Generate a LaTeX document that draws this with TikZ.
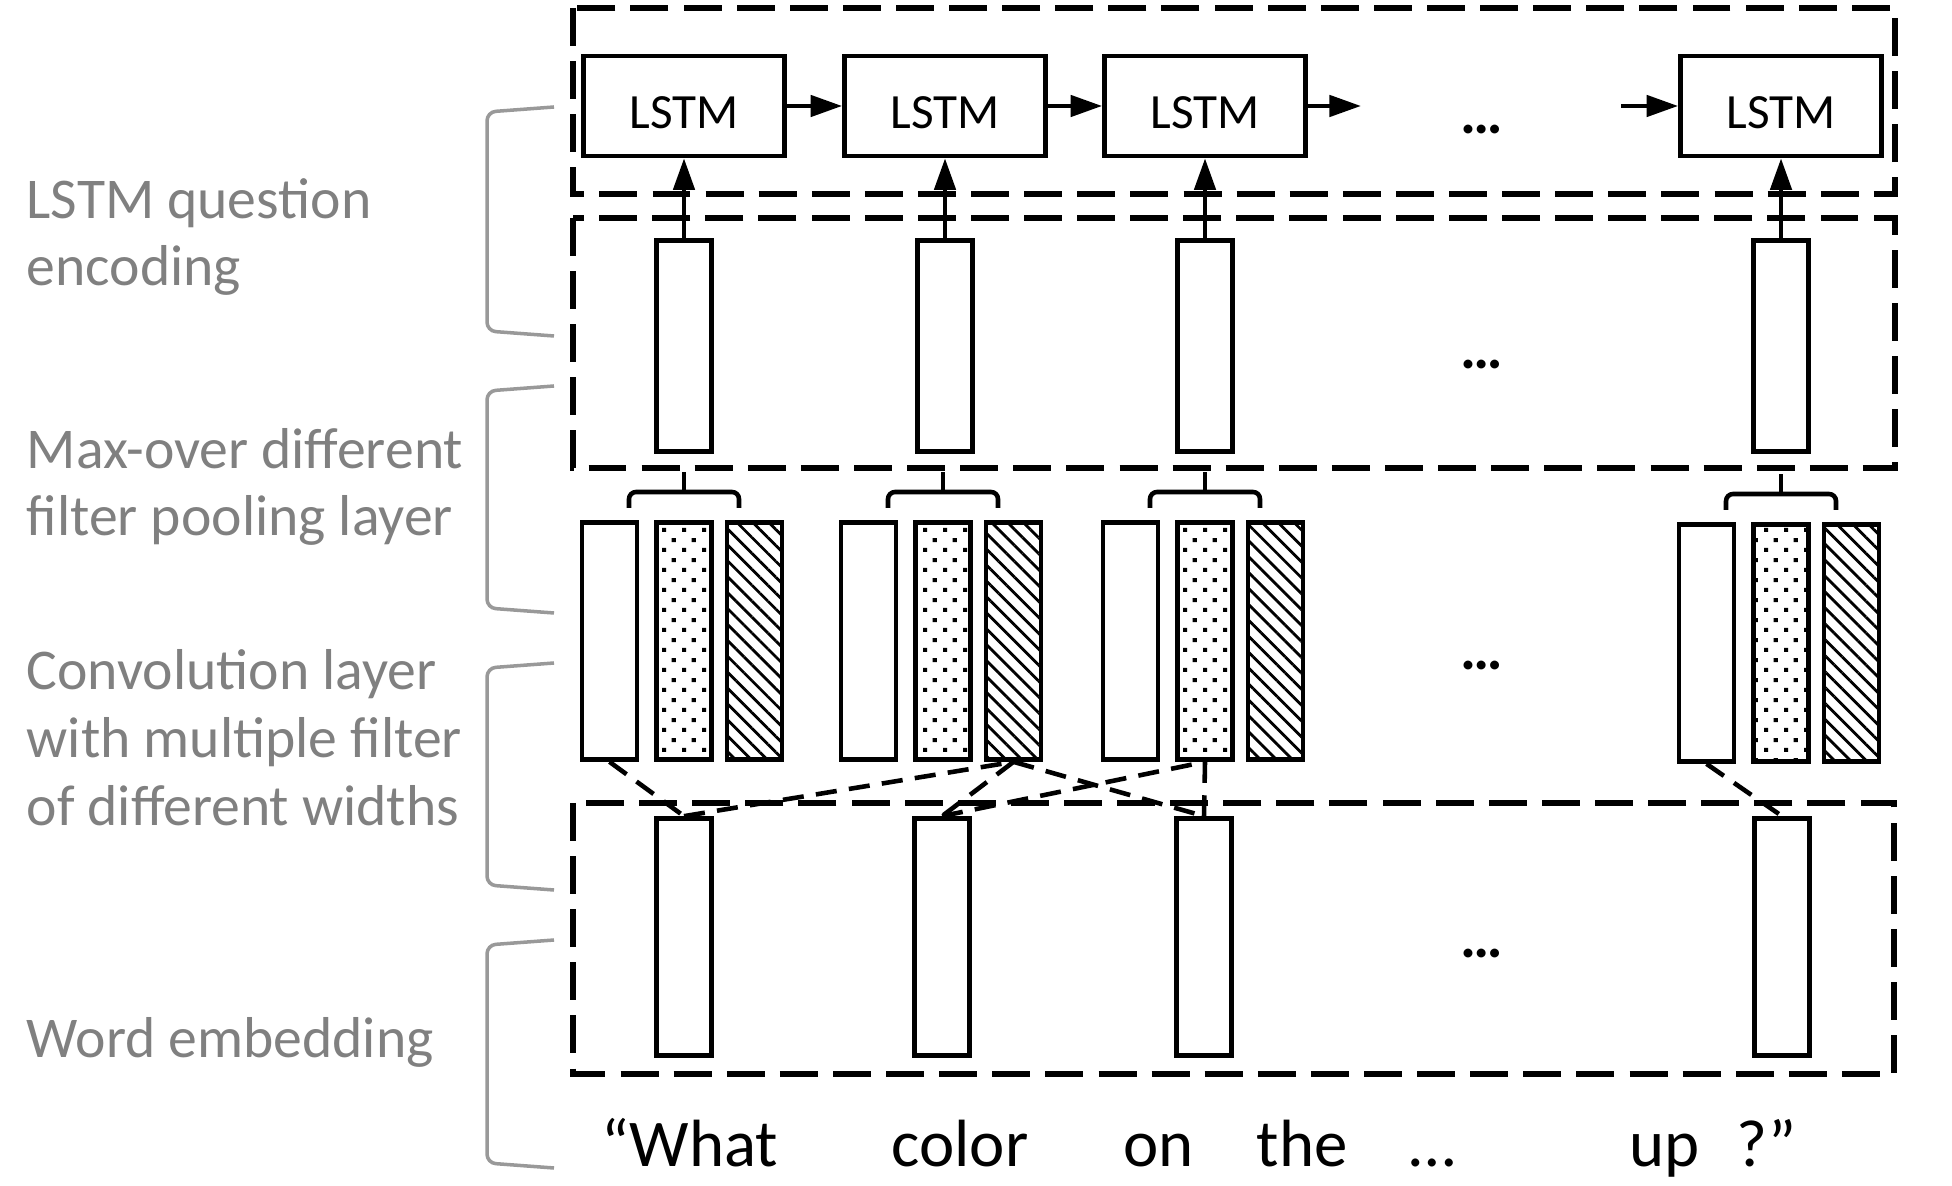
\documentclass[tikz,border=0pt]{standalone}
\usepackage{fontspec}
\setmainfont{Carlito}
\usetikzlibrary{arrows.meta,patterns.meta}

\tikzdeclarepattern{
  name=speckle,
  bottom left={(0pt,0pt)},
  top right={(5.7pt,5.6pt)},
  tile size={(5.7pt,5.6pt)},
  code={
    \fill (0.3pt,0.3pt) rectangle (1.5pt,1.5pt);
    \fill (3.15pt,3.1pt) rectangle (4.35pt,4.3pt);
  }
}

\begin{document}
\begin{tikzpicture}[x=0.01cm,y=-0.01cm]

\tikzstyle{lstm} = [draw, line width=1.3pt, minimum width=2.01cm, minimum height=1.0cm, inner sep=0pt, text height=13pt, text depth=0pt, font=\fontsize{14}{16}\selectfont]
\tikzstyle{vec} = [draw, line width=1.3pt, minimum width=0.55cm, minimum height=2.11cm, inner sep=0pt]
\tikzstyle{conv} = [vec, minimum height=2.37cm]
\tikzstyle{dotcol} = [conv, pattern=speckle]
\tikzstyle{hatchcol} = [conv, pattern={Lines[angle=-45,distance=3.2pt,line width=0.8pt]}]
\tikzstyle{layer} = [line width=1.5pt, dash pattern=on 10.8pt off 4.3pt]
\tikzstyle{link} = [line width=1.3pt, dash pattern=on 6pt off 3.5pt]
\tikzstyle{flow} = [line width=1.3pt, -{Triangle[length=9pt,width=6pt]}]
\tikzstyle{brace} = [line width=1.3pt, rounded corners=2pt]
\tikzstyle{bracket} = [black!40, line width=1pt, rounded corners=2.5pt]
\tikzstyle{tag} = [anchor=base west, align=left, inner sep=0pt, text=black!50, font=\fontsize{16.4}{19.2}\selectfont]
\tikzstyle{word} = [anchor=base west, inner sep=0pt, font=\fontsize{19}{22}\selectfont]
\tikzstyle{more} = [inner sep=0pt, font=\bfseries\fontsize{17}{20}\selectfont]

\useasboundingbox (0,0) rectangle (1952,1186);

% dashed layer frames
\draw[layer] (573,8) rectangle (1895,194);
\draw[layer] (573,218) rectangle (1895,468);
\draw[layer] (573,803) rectangle (1894,1074);

% LSTM chain
\node[lstm] (l1) at (684,106) {LSTM};
\node[lstm] (l2) at (945,106) {LSTM};
\node[lstm] (l3) at (1205,106) {LSTM};
\node[lstm] (l4) at (1781,106) {LSTM};
\coordinate (l3out) at (1361,106);
\coordinate (l4in) at (1621,106);
\node[more] (gap1) at (1482,130) {…};

\draw[flow] (l1) -- (l2);
\draw[flow] (l2) -- (l3);
\draw[flow] (l3) -- (l3out);
\draw[flow] (l4in) -- (l4);

% pooled vectors
\node[vec] (p1) at (684,346) {};
\node[vec] (p2) at (945,346) {};
\node[vec] (p3) at (1205,346) {};
\node[vec] (p4) at (1781,346) {};
\node[more] (gap2) at (1482,365) {…};

\draw[flow] (p1) -- (l1);
\draw[flow] (p2) -- (l2);
\draw[flow] (p3) -- (l3);
\draw[flow] (p4) -- (l4);

% convolution filters
\node[conv] (c1w) at (609.5,641) {};
\node[dotcol] (c1d) at (684,641) {};
\node[hatchcol] (c1h) at (754.5,641) {};

\node[conv] (c2w) at (868.5,641) {};
\node[dotcol] (c2d) at (943,641) {};
\node[hatchcol] (c2h) at (1013.5,641) {};

\node[conv] (c3w) at (1130.5,641) {};
\node[dotcol] (c3d) at (1205,641) {};
\node[hatchcol] (c3h) at (1275.5,641) {};

\node[conv] (c4w) at (1706.5,643) {};
\node[dotcol] (c4d) at (1781,643) {};
\node[hatchcol] (c4h) at (1851.5,643) {};
\node[more] (gap3) at (1482,666) {…};

% max-over braces
\draw[brace] (629,508) -- (629,492) -- (739,492) -- (739,508);
\draw[brace] (684,492) -- (684,472);
\draw[brace] (888,508) -- (888,492) -- (998,492) -- (998,508);
\draw[brace] (943,492) -- (943,472);
\draw[brace] (1150,508) -- (1150,492) -- (1260,492) -- (1260,508);
\draw[brace] (1205,492) -- (1205,472);
\draw[brace] (1726,510) -- (1726,494) -- (1836,494) -- (1836,510);
\draw[brace] (1781,494) -- (1781,474);

% word embeddings
\node[conv] (e1) at (684,937) {};
\node[conv] (e2) at (942,937) {};
\node[conv] (e3) at (1204,937) {};
\node[conv] (e4) at (1782,937) {};
\node[more] (gap4) at (1482,953) {…};

\draw[link] (c1w.south) -- (e1.north);
\draw[link] (e1.north) -- (c2h.south);
\draw[link] (c2h.south) -- (e2.north);
\draw[link] (c2h.south) -- (e3.north);
\draw[link] (e2.north) -- (c3d.south);
\draw[link] (c3d.south) -- (e3.north);
\draw[link] (c4w.south) -- (e4.north);

% question words
\node[word] (w1) at (601,1166) {“What};
\node[word] (w2) at (891,1166) {color};
\node[word] (w3) at (1123,1166) {on};
\node[word] (w4) at (1256,1166) {the};
\node[word] (w5) at (1409,1166) {…};
\node[word] (w6) at (1629,1166) {up};
\node[word] (w7) at (1736,1166) {?”};

% side labels
\draw[bracket] (554,107) -- (487,112) -- (487,331) -- (554,336);
\draw[bracket] (554,386) -- (487,391) -- (487,608) -- (554,613);
\draw[bracket] (554,663) -- (487,668) -- (487,885) -- (554,890);
\draw[bracket] (554,940) -- (487,945) -- (487,1163) -- (554,1168);

% base anchor sits on the last line
\node[tag] (t1) at (26,286) {LSTM question\\encoding};
\node[tag] (t2) at (26,536) {Max-over different\\filter pooling layer};
\node[tag] (t3) at (26,825) {Convolution layer\\with multiple filter\\of different widths};
\node[tag] (t4) at (26,1057) {Word embedding};

\end{tikzpicture}
\end{document}
